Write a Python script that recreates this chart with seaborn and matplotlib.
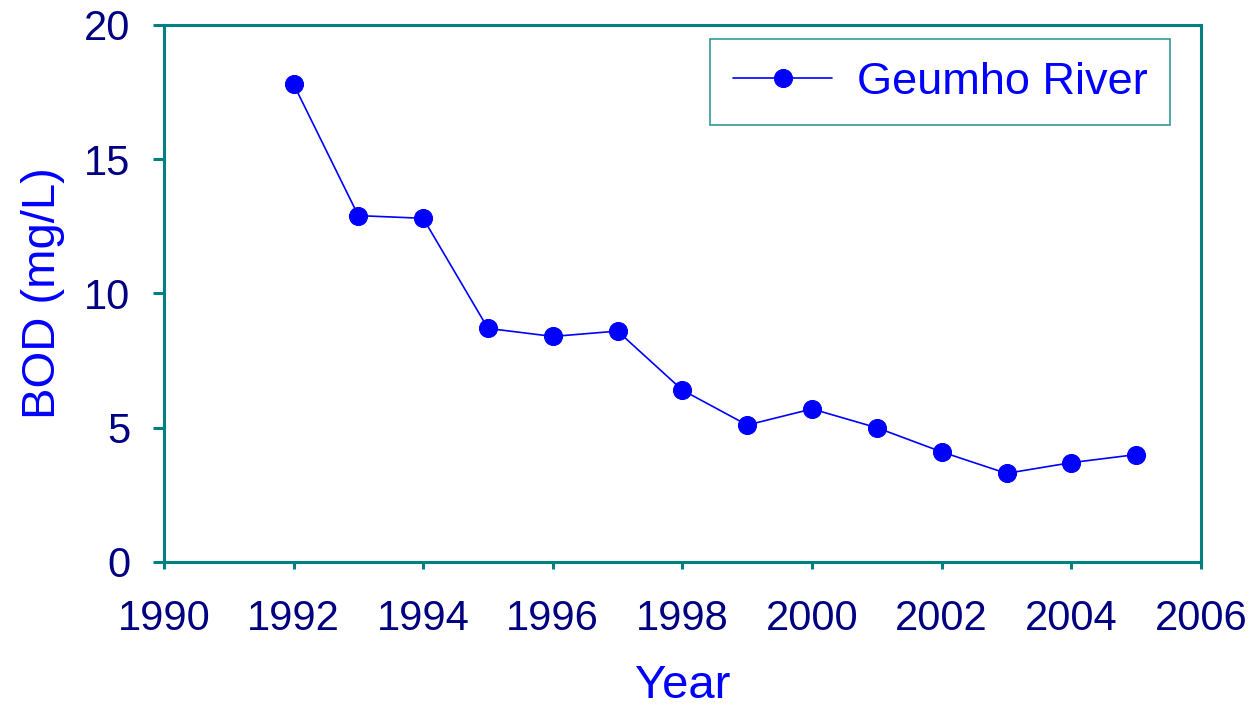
import matplotlib
matplotlib.use("Agg")
import matplotlib.pyplot as plt
import seaborn as sns
import pandas as pd

# BOD data, Geumho River
years = [1992, 1993, 1994, 1995, 1996, 1997, 1998, 1999, 2000, 2001, 2002, 2003, 2004, 2005]
bod = [17.8, 12.9, 12.8, 8.7, 8.4, 8.6, 6.4, 5.1, 5.7, 5.0, 4.1, 3.3, 3.7, 4.0]
series_name = "Geumho River"
x_ticks = [1990, 1992, 1994, 1996, 1998, 2000, 2002, 2004, 2006]
y_ticks = [0, 5, 10, 15, 20]

teal = "#008080"
navy = "#000080"
blue = "#0000FF"

sns.set_style("ticks")
plt.rcParams["font.family"] = ["Liberation Sans", "DejaVu Sans"]

df = pd.DataFrame({"Year": years, "BOD": bod, "River": series_name})

fig = plt.figure(figsize=(12.51, 7.06), dpi=100)
ax = fig.add_axes([0.131, 0.204, 0.829, 0.7606])

sns.lineplot(
    data=df, x="Year", y="BOD", hue="River",
    palette=[blue], marker="o", markersize=13,
    markeredgecolor=blue, linewidth=1.2, ax=ax
)

ax.set_xlim(1990, 2006)
ax.set_ylim(0, 20)
ax.set_xticks(x_ticks)
ax.set_yticks(y_ticks)

for side in ["left", "right", "top", "bottom"]:
    ax.spines[side].set_visible(True)
    ax.spines[side].set_color(teal)
    ax.spines[side].set_linewidth(2.2)

ax.tick_params(axis="y", length=8, width=2.2, color=teal, labelcolor=navy,
               labelsize=30, pad=16, direction="out")
ax.tick_params(axis="x", length=5, width=2.2, color=teal, labelcolor=navy,
               labelsize=30, pad=22, direction="out")

ax.set_xlabel("Year", fontsize=34, color=blue, labelpad=18)
ax.set_ylabel("BOD (mg/L)", fontsize=34, color=blue, labelpad=14)

leg = ax.legend(
    loc="upper left", bbox_to_anchor=(0.527, 0.974), borderaxespad=0,
    fontsize=32.5, handlelength=2.2, handletextpad=0.55, borderpad=0.5,
    fancybox=False, frameon=True
)
leg.get_frame().set_edgecolor(teal)
leg.get_frame().set_linewidth(1.2)
for t in leg.get_texts():
    t.set_color(blue)

fig.savefig("out.png", dpi=100)
